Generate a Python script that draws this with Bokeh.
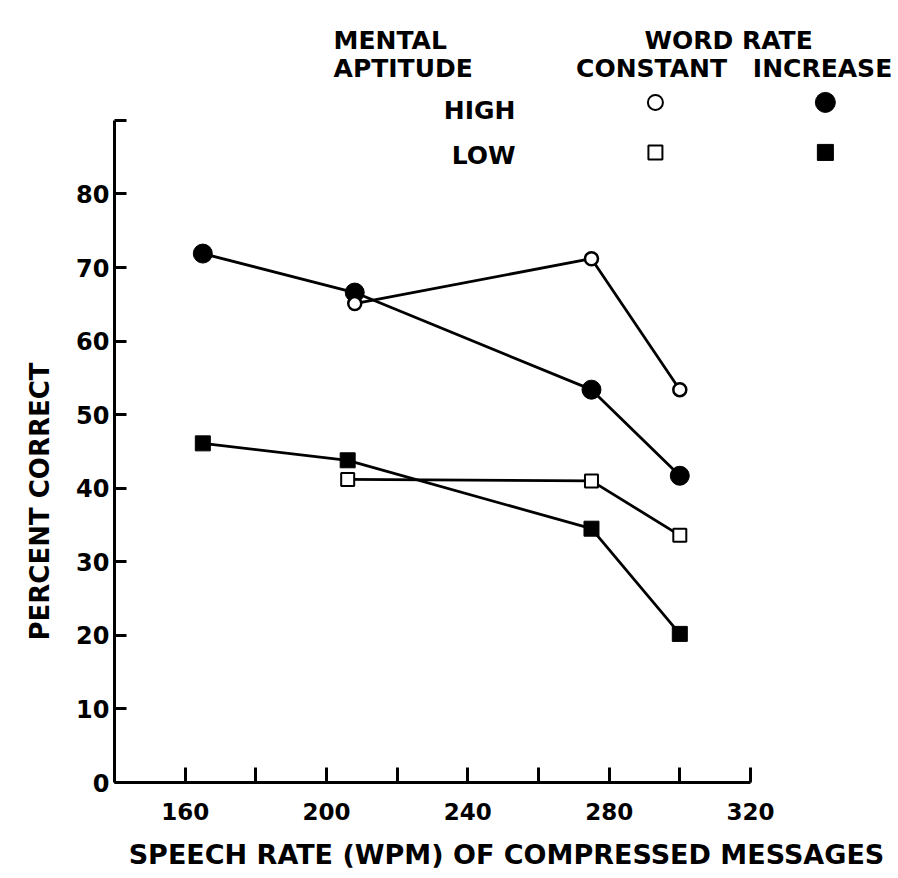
from bokeh.plotting import figure
from bokeh.models import Range1d, FixedTicker, Label, Title
from bokeh.embed import file_html
from bokeh.resources import INLINE

# ---- data ----
high_inc_x = [165, 208, 275, 300]
high_inc_y = [71.9, 66.6, 53.4, 41.7]
high_con_x = [208, 275, 300]
high_con_y = [65.1, 71.2, 53.4]
low_inc_x = [165, 206, 275, 300]
low_inc_y = [46.1, 43.8, 34.5, 20.2]
low_con_x = [206, 275, 300]
low_con_y = [41.2, 41.0, 33.6]

x_ticks = [160, 180, 200, 220, 240, 260, 280, 300, 320]
x_tick_labels = ["160", "", "200", "", "240", "", "280", "", "320"]
y_ticks = [0, 10, 20, 30, 40, 50, 60, 70, 80, 90]
y_tick_labels = ["0", "10", "20", "30", "40", "50", "60", "70", "80", ""]

FONT = "DejaVu Sans"

p = figure(width=898, height=878, output_backend="svg", toolbar_location=None,
           x_range=Range1d(140, 361.9), y_range=Range1d(0, 106.3),
           min_border_left=114, min_border_right=0,
           min_border_top=0, min_border_bottom=96)
p.outline_line_color = None
p.grid.visible = False
p.background_fill_color = "white"

for ax in (p.xaxis[0], p.yaxis[0]):
    ax.axis_line_width = 3
    ax.axis_line_color = "black"
    ax.major_tick_line_width = 3
    ax.major_tick_line_color = "black"
    ax.major_tick_out = 0
    ax.minor_tick_line_color = None
    ax.major_label_text_font = FONT
    ax.major_label_text_font_style = "bold"
    ax.major_label_text_color = "black"

xa = p.xaxis[0]
xa.bounds = (140, 320)
xa.ticker = FixedTicker(ticks=x_ticks)
xa.major_label_overrides = {t: l for t, l in zip(x_ticks, x_tick_labels)}
xa.major_tick_in = 15
xa.major_label_standoff = 20
xa.major_label_text_font_size = "23px"
xa.axis_label = "SPEECH RATE (WPM) OF COMPRESSED MESSAGES"
xa.axis_label_text_font = FONT
xa.axis_label_text_font_style = "bold"
xa.axis_label_text_font_size = "27px"
xa.axis_label_text_color = "black"
xa.axis_label_standoff = 16

ya = p.yaxis[0]
ya.bounds = (0, 90)
ya.ticker = FixedTicker(ticks=y_ticks)
ya.major_label_overrides = {t: l for t, l in zip(y_ticks, y_tick_labels)}
ya.major_tick_in = 12
ya.major_label_standoff = 5
ya.major_label_text_font_size = "24px"

ytitle = Title(text="PERCENT CORRECT", align="left", offset=142, standoff=38,
               text_font=FONT, text_font_style="bold", text_font_size="26px",
               text_color="black")
p.add_layout(ytitle, "left")

# ---- lines ----
for xs, ys in ((high_inc_x, high_inc_y), (high_con_x, high_con_y),
               (low_inc_x, low_inc_y), (low_con_x, low_con_y)):
    p.line(xs, ys, line_color="black", line_width=2.8)

# ---- markers ----
p.scatter(high_inc_x, high_inc_y, marker="circle", size=19,
          fill_color="black", line_color="black")
p.scatter(high_con_x, high_con_y, marker="circle", size=13,
          fill_color="white", line_color="black", line_width=2.5)
p.scatter(low_inc_x, low_inc_y, marker="square", size=15,
          fill_color="black", line_color="black")
p.scatter(low_con_x, low_con_y, marker="square", size=13,
          fill_color="white", line_color="black", line_width=2)

# ---- key ----
def lab(x, y, text, size="25px", align="left"):
    p.add_layout(Label(x=x, y=y, text=text, text_font=FONT, text_font_style="bold",
                       text_font_size=size, text_color="black", text_align=align,
                       text_baseline="middle"))

lab(202.0, 100.87, "MENTAL")
lab(202.0, 97.07, "APTITUDE")
lab(253.5, 91.39, "HIGH", align="right")
lab(253.5, 85.27, "LOW", align="right")
lab(313.8, 100.87, "WORD RATE", align="center")
lab(292.0, 97.07, "CONSTANT", align="center")
lab(340.4, 97.07, "INCREASE", align="center")

key_x = [293.1, 341.2, 293.1, 341.2]
key_y = [92.45, 92.45, 85.65, 85.65]
p.scatter(key_x[0:1], key_y[0:1], marker="circle", size=15,
          fill_color="white", line_color="black", line_width=2)
p.scatter(key_x[1:2], key_y[1:2], marker="circle", size=20,
          fill_color="black", line_color="black")
p.scatter(key_x[2:3], key_y[2:3], marker="square", size=14,
          fill_color="white", line_color="black", line_width=2)
p.scatter(key_x[3:4], key_y[3:4], marker="square", size=16,
          fill_color="black", line_color="black")

open("out.html", "w").write(file_html(p, INLINE))
